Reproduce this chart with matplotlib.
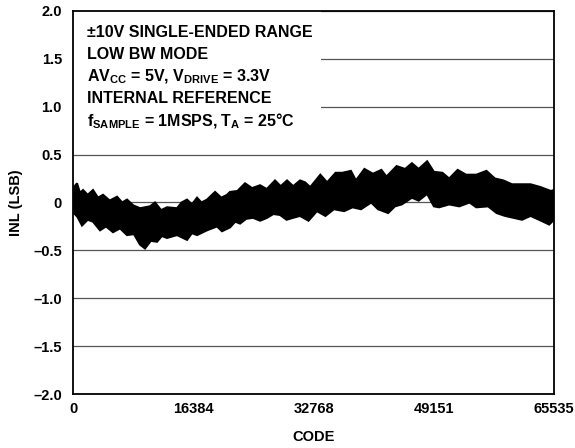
import numpy as np
import matplotlib
matplotlib.use('Agg')
import matplotlib.pyplot as plt
from matplotlib.patches import Rectangle

plt.rcParams['font.family'] = ['Liberation Sans', 'DejaVu Sans']
plt.rcParams['font.weight'] = 'bold'
plt.rcParams['mathtext.fontset'] = 'custom'
plt.rcParams['mathtext.rm'] = 'Liberation Sans:bold'
plt.rcParams['mathtext.it'] = 'Liberation Sans:bold'
plt.rcParams['mathtext.bf'] = 'Liberation Sans:bold'

# upper edge of the INL band (code, LSB)
upper_code = [0, 545, 950, 1363, 2000, 2725, 3400, 4088, 5000, 5995, 6700, 7358,
              8200, 9129, 10491, 11173, 12000, 12808, 14170, 14800, 15533, 16200,
              16895, 17500, 18258, 19348, 20200, 20983, 21391, 22400, 23435, 24400,
              25479, 26400, 27523, 28300, 29158, 30000,
              30929, 31624, 32319, 33696, 34621, 35779, 36705, 37857, 38546, 39703,
              40860, 42018, 42702, 44091, 45248, 46174, 47090, 48247, 49171, 50331,
              51255, 52403, 53559, 54950, 56330, 57484, 58640, 59800, 60948, 62340,
              63723, 65102, 65535]
upper_inl = [0.15, 0.20, 0.10, 0.13, 0.08, 0.13, 0.05, 0.08, 0.02, 0.06, 0.00, 0.03,
             -0.03, -0.06, -0.04, 0.00, -0.08, -0.05, -0.06, 0.00, 0.03, -0.02,
             0.05, 0.00, 0.03, 0.11, 0.05, 0.08, 0.11, 0.12, 0.20, 0.15,
             0.18, 0.14, 0.23, 0.17, 0.23, 0.17,
             0.23, 0.21, 0.16, 0.29, 0.21, 0.31, 0.31, 0.33, 0.23, 0.35,
             0.30, 0.34, 0.27, 0.38, 0.35, 0.41, 0.35, 0.43, 0.32, 0.31,
             0.25, 0.34, 0.29, 0.29, 0.33, 0.25, 0.23, 0.19, 0.19, 0.19,
             0.16, 0.12, 0.13]

# lower edge of the INL band
lower_code = [0, 600, 1226, 2000, 2725, 3679, 4500, 5450, 6400, 7358, 8300, 9129,
              9810, 10600, 11445, 12100, 12808, 14170, 15533, 16200, 16895, 18258,
              19620, 20301, 21391, 22100, 22754, 23600, 24525, 25500, 26432, 27300,
              28204, 29100, 29975,
              30929, 32086, 33233, 34389, 35548, 36934, 38082, 39240, 40630, 41556,
              42933, 43860, 44785, 46174, 47090, 48247, 49171, 49868, 51255, 52632,
              54023, 54950, 56557, 57713, 58869, 60032, 61176, 62340, 63493, 64882,
              65535]
lower_inl = [-0.10, -0.15, -0.24, -0.18, -0.20, -0.29, -0.25, -0.31, -0.27, -0.34, -0.33, -0.44,
             -0.48, -0.40, -0.41, -0.35, -0.37, -0.34, -0.39, -0.32, -0.34, -0.29,
             -0.25, -0.30, -0.26, -0.20, -0.22, -0.17, -0.16, -0.19, -0.16, -0.12,
             -0.13, -0.18, -0.16,
             -0.14, -0.19, -0.09, -0.14, -0.07, -0.09, -0.05, -0.07, 0.00, -0.07,
             -0.11, -0.04, -0.02, 0.05, 0.02, 0.09, -0.04, -0.05, -0.02, -0.04,
             0.00, -0.05, -0.04, -0.11, -0.14, -0.16, -0.18, -0.14, -0.18, -0.23,
             -0.18]

x_ticks = [0, 16384, 32768, 49151, 65535]
x_labels = ['0', '16384', '32768', '49151', '65535']
y_ticks = [2.0, 1.5, 1.0, 0.5, 0, -0.5, -1.0, -1.5, -2.0]
y_labels = ['2.0', '1.5', '1.0', '0.5', '0', '\u20130.5', '\u20131.0', '\u20131.5', '\u20132.0']

notes = ['\u00b110V SINGLE-ENDED RANGE',
         'LOW BW MODE',
         'AV$_{CC}$ = 5V, V$_{DRIVE}$ = 3.3V',
         'INTERNAL REFERENCE',
         'f$_{SAMPLE}$ = 1MSPS, T$_{A}$ = 25\u00b0C']

fig = plt.figure(figsize=(5.75, 4.48), dpi=100)
ax = fig.add_axes([0.127, 0.1205, 0.8365, 0.855])

xs = np.r_[upper_code, lower_code[::-1]]
ys = np.r_[upper_inl, lower_inl[::-1]]
ax.fill(xs, ys, color='black', lw=1.5, ec='black', zorder=3)

ax.set_xlim(0, 65535)
ax.set_ylim(-2.0, 2.0)
ax.set_xticks(x_ticks)
ax.set_xticklabels(x_labels)
ax.set_yticks(y_ticks)
ax.set_yticklabels(y_labels)
ax.tick_params(length=0, labelsize=10.5)
ax.tick_params(axis='y', pad=8)
ax.tick_params(axis='x', pad=6)
for lab in ax.get_xticklabels() + ax.get_yticklabels():
    lab.set_fontweight('bold')

ax.grid(True, axis='y', color='#555555', lw=0.9)
ax.set_axisbelow(True)
for s in ax.spines.values():
    s.set_linewidth(1.3)
    s.set_zorder(5)

# white box behind the conditions text
ax.add_patch(Rectangle((0, 0.65), 0.516, 0.35, transform=ax.transAxes,
                       facecolor='white', edgecolor='none', zorder=1))

y0 = 0.945
for i, t in enumerate(notes):
    ax.text(0.029, y0 - i * 0.058, t, transform=ax.transAxes, fontsize=11.5,
            fontweight='bold', va='center', ha='left', zorder=4)

ax.set_xlabel('CODE', fontsize=10.5, fontweight='bold', labelpad=10)
ax.set_ylabel('INL (LSB)', fontsize=10.5, fontweight='bold', labelpad=7)

fig.savefig('out.png', dpi=100)
